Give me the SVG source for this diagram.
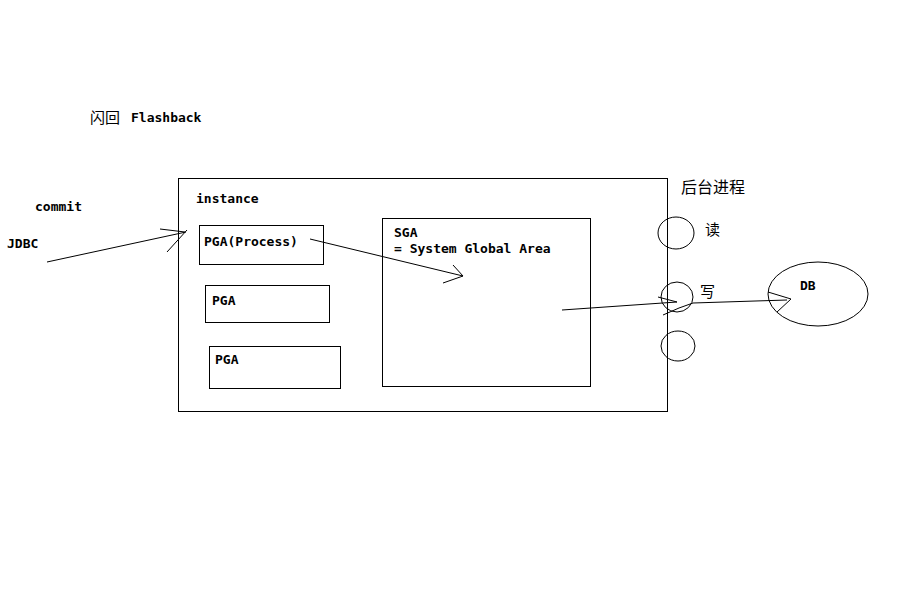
<svg xmlns="http://www.w3.org/2000/svg" width="908" height="605" viewBox="0 0 908 605">
<style>
.b{fill:none;stroke:#000;stroke-width:1}
.t{font-family:"DejaVu Sans Mono","Liberation Mono",monospace;font-weight:bold;font-size:13px;fill:#000}
.c{font-family:"Noto Sans CJK SC",sans-serif;font-size:15px;fill:#000}
</style>
<rect width="908" height="605" fill="#fff"/>
<g id="title"><text class="c" x="90" y="123">闪回</text><text class="t" x="131" y="122">Flashback</text></g>
<g id="commit"><text class="t" x="35" y="211">commit</text></g>
<g id="jdbc"><text class="t" x="7" y="248">JDBC</text></g>
<g id="instance"><rect class="b" x="178.5" y="178.5" width="489" height="233"/><text class="t" x="196" y="203">instance</text></g>
<g id="pga1"><rect class="b" x="199.5" y="225.5" width="124" height="39"/><text class="t" x="204" y="246">PGA(Process)</text></g>
<g id="pga2"><rect class="b" x="205.5" y="285.5" width="124" height="37"/><text class="t" x="212" y="305">PGA</text></g>
<g id="pga3"><rect class="b" x="209.5" y="346.5" width="131" height="42"/><text class="t" x="215" y="364">PGA</text></g>
<g id="sga"><rect class="b" x="382.5" y="218.5" width="208" height="168"/><text class="t" x="394" y="237">SGA</text><text class="t" x="394" y="253">= System Global Area</text></g>
<g id="bg"><text class="c" x="681" y="193" style="font-size:16px">后台进程</text></g>
<g id="read"><ellipse class="b" cx="676" cy="233" rx="18" ry="16"/><text class="c" x="705" y="235">读</text></g>
<g id="write"><ellipse class="b" cx="677" cy="297" rx="16" ry="15"/><text class="c" x="700" y="297">写</text></g>
<g id="proc3"><ellipse class="b" cx="678" cy="346" rx="17" ry="15"/></g>
<g id="db"><ellipse class="b" cx="818" cy="294" rx="50" ry="32"/><text class="t" x="800" y="290">DB</text></g>
<g id="connectors" class="b">
<path d="M47 262 L186 232 M160 229 L185 232 M167 252 L187 230"/>
<path d="M310 239 L463 276 M453 265 L463 276 M443 283 L463 276"/>
<path d="M562 310 L677 302 M658 297 L677 302 M663 315 L679 308 L693 303 L787 300 M768 292 L791 299 M777 312 L791 299"/>
</g>
</svg>
